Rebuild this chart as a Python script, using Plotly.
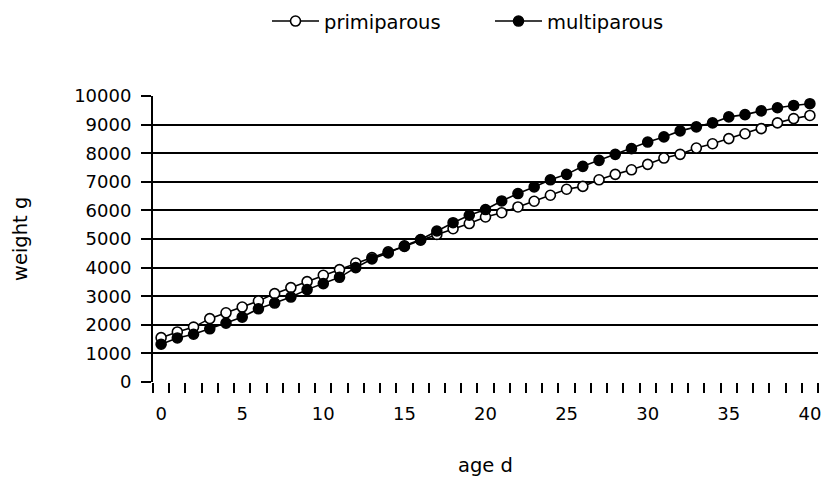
import plotly.graph_objects as go

age = list(range(0, 41))
primiparous = [1550, 1750, 1920, 2215, 2420, 2620, 2830, 3090, 3300, 3510,
               3730, 3930, 4160, 4350, 4550, 4740, 4960, 5160, 5360, 5540,
               5770, 5920, 6120, 6320, 6530, 6740, 6840, 7070, 7260, 7420,
               7610, 7830, 7960, 8180, 8330, 8510, 8680, 8860, 9060, 9210, 9320]
multiparous = [1320, 1540, 1670, 1860, 2060, 2270, 2560, 2760, 2970, 3230,
               3440, 3660, 4000, 4300, 4510, 4760, 4980, 5280, 5570, 5830,
               6030, 6330, 6590, 6820, 7070, 7260, 7540, 7750, 7960, 8160,
               8390, 8570, 8780, 8920, 9060, 9270, 9350, 9480, 9590, 9670, 9730]
x_ticks = [0, 5, 10, 15, 20, 25, 30, 35, 40]
y_ticks = [0, 1000, 2000, 3000, 4000, 5000, 6000, 7000, 8000, 9000, 10000]

FONT = "DejaVu Sans"

fig = go.Figure()
fig.add_trace(go.Scatter(
    x=age, y=primiparous, name="primiparous", mode="lines+markers",
    line=dict(color="black", width=1.6),
    marker=dict(symbol="circle", size=10, color="white",
                line=dict(color="black", width=1.6)),
))
fig.add_trace(go.Scatter(
    x=age, y=multiparous, name="multiparous", mode="lines+markers",
    line=dict(color="black", width=1.6),
    marker=dict(symbol="circle", size=10, color="black",
                line=dict(color="black", width=1.6)),
))

fig.update_layout(
    width=826, height=479,
    margin=dict(l=153, r=8, t=96, b=97, autoexpand=False),
    paper_bgcolor="white", plot_bgcolor="white",
    font=dict(family=FONT, size=18, color="black"),
    showlegend=True,
    legend=dict(orientation="h", x=(267 - 153) / 665, xanchor="left", y=1.261, yanchor="middle",
                font=dict(family=FONT, size=19.5, color="black"),
                itemwidth=47, entrywidth=161, bgcolor="rgba(0,0,0,0)"),
    xaxis=dict(
        range=[-0.5, 40.5], tickmode="array", tickvals=x_ticks,
        ticktext=[str(v) for v in x_ticks],
        ticks="", showgrid=False, zeroline=False,
        showline=False, ticklabelstandoff=19,
        minor=dict(tickmode="linear", tick0=-0.5, dtick=1, ticks="outside",
                   ticklen=10, tickwidth=2, tickcolor="black", showgrid=False),
    ),
    yaxis=dict(
        range=[0, 10000], tickmode="array", tickvals=y_ticks,
        ticktext=[str(v) for v in y_ticks],
        ticks="outside", ticklen=10, tickwidth=2, tickcolor="black",
        showgrid=True, gridcolor="black", gridwidth=2,
        zeroline=False, showline=True, linecolor="black", linewidth=2,
        ticklabelstandoff=6,
    ),
    annotations=[
        dict(text="weight g", xref="paper", yref="paper", x=(20 - 153) / 665, y=0.5,
             textangle=-90, showarrow=False, xanchor="center", yanchor="middle",
             font=dict(family=FONT, size=19.5, color="black")),
        dict(text="age d", xref="paper", yref="paper", x=0.5, y=(381.7 - 465) / 286,
             showarrow=False, xanchor="center", yanchor="middle",
             font=dict(family=FONT, size=19.5, color="black")),
    ],
)

fig.write_html("out.html", config={"displayModeBar": False},
               post_script="document.body.style.margin='0';")
